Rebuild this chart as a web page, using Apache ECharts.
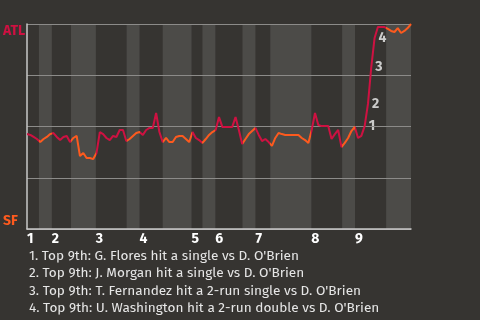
<!DOCTYPE html>
<html><head><meta charset="utf-8">
<script src="https://cdn.jsdelivr.net/npm/echarts@6/dist/echarts.min.js"></script>
<style>html,body{margin:0;padding:0;background:#363431;}#c{width:480px;height:320px;}</style>
</head><body><div id="c"></div>
<script>
// ATL win probability (%) after each play (play index 0..116)
const winProb = [46.3,45.9,44.9,43.9,42.4,43.9,44.9,46.3,46.8,44.9,
43.4,44.9,45.4,42.4,44.4,45.4,35.6,37.1,34.6,34.6,
34.1,37.1,47.3,46.3,44.4,43.4,45.4,44.9,48.3,48.3,
42.9,43.9,45.4,46.8,47.3,45.9,48.3,49.3,49.3,56.6,
47.3,42.4,44.4,42.4,42.4,44.9,45.4,45.4,43.9,42.4,
47.3,44.4,43.4,42.0,43.9,45.9,47.3,48.3,54.6,49.8,
49.8,49.8,49.8,54.6,48.3,41.5,43.9,46.3,47.8,49.3,
45.9,42.9,43.9,42.4,40.5,44.4,46.8,46.3,45.9,45.9,
45.9,45.9,45.9,44.4,43.4,42.0,48.3,56.6,50.7,50.2,
50.2,50.2,43.9,46.3,48.3,40.0,42.0,44.4,47.8,49.8,
44.4,45.4,50.2,61.0,79.0,93.2,98.5,98.5,98.5,97.6,
96.6,96.1,98.0,95.6,96.6,98.0,100];
// half-inning start positions (play index), top 1st .. bottom 9th, plus end
const halfStarts = [0,3.6,7.5,13.3,20.8,30.1,34.0,41.0,49.7,53.0,56.9,65.1,69.0,73.5,85.9,95.2,99.1,108.5,116];
const inningLabels = ['1','2','3','4','5','6','7','8','9'];
const teams = ['ATL','SF'];
const teamColors = ['#ce1141','#fd5a1e'];
const annotPlays = [102,103,104,105];
const annotMarks = ['1','2','3','4'];
const annotTexts = [
  "1. Top 9th: G. Flores hit a single vs D. O'Brien",
  "2. Top 9th: J. Morgan hit a single vs D. O'Brien",
  "3. Top 9th: T. Fernandez hit a 2-run single vs D. O'Brien",
  "4. Top 9th: U. Washington hit a 2-run double vs D. O'Brien"
];

const lineData = winProb.map((v,i)=>[i,v]);
const pieces = [];
const bands = [];
for (let h=0; h<halfStarts.length-1; h++) {
  pieces.push({gte: halfStarts[h], lt: (h===halfStarts.length-2? 1e9 : halfStarts[h+1]), color: teamColors[h%2]});
  if (h%2===1) bands.push([{xAxis: halfStarts[h]}, {xAxis: halfStarts[h+1]}]);
}
const inningStarts = halfStarts.filter((v,i)=>i%2===0 && i<18);

const font = "'Fira Sans','Noto Sans',sans-serif";
const chart = echarts.init(document.getElementById('c'), null, {renderer:'canvas'});
chart.setOption({
  backgroundColor: '#363431',
  animation: false,
  grid: {left: 26, right: 69, top: 24, bottom: 91, containLabel: false},
  title: {
    text: annotTexts.join('\n'), left: 24, top: 242,
    textStyle: {color: '#e6e6e6', fontSize: 13.6, fontWeight: 'normal', fontFamily: font, lineHeight: 17.6}
  },
  xAxis: {
    type: 'value', min: 0, max: halfStarts[halfStarts.length-1],
    axisLine: {show: true, lineStyle: {color: '#c8c8c8', width: 1.5}},
    axisTick: {show: false},
    splitLine: {show: false},
    axisLabel: {
      customValues: inningStarts, align: 'left', margin: 3,
      color: '#ffffff', fontWeight: 'bold', fontSize: 14, fontFamily: font,
      formatter: v => inningLabels[inningStarts.indexOf(v)] || ''
    }
  },
  yAxis: {
    type: 'value', min: 0, max: 100, interval: 25,
    axisLine: {show: true, lineStyle: {color: '#c8c8c8', width: 1.5}},
    axisTick: {show: false},
    splitLine: {show: true, lineStyle: {color: '#8c8b89', width: 1}},
    axisLabel: {
      customValues: [4, 96.5], align: 'left', margin: 24,
      fontWeight: 'bold', fontSize: 14, fontFamily: font,
      formatter: v => v > 50 ? '{a|' + teams[0] + '}' : '{b|' + teams[1] + '}',
      rich: {a: {color: teamColors[0], fontWeight: 'bold', fontSize: 14, fontFamily: font},
             b: {color: teamColors[1], fontWeight: 'bold', fontSize: 14, fontFamily: font}}
    }
  },
  visualMap: {type: 'piecewise', show: false, dimension: 0, seriesIndex: 0, pieces: pieces},
  series: [
    {type: 'line', data: lineData, showSymbol: false, symbol: 'none', z: 3,
     lineStyle: {width: 2}},
    {type: 'scatter', z: -2, zlevel: 0, symbolSize: 0, silent: true,
     data: annotPlays.map((p,i)=>({value: [p, winProb[p]], name: annotMarks[i]})),
     label: {show: true, position: 'right', distance: 4, formatter: p => p.name,
             color: '#f2f2f2', fontWeight: 'bold', fontSize: 14, fontFamily: font},
     markArea: {silent: true, z: -2, itemStyle: {color: 'rgba(255,255,255,0.115)'}, data: bands}
    }
  ]
});
</script></body></html>
